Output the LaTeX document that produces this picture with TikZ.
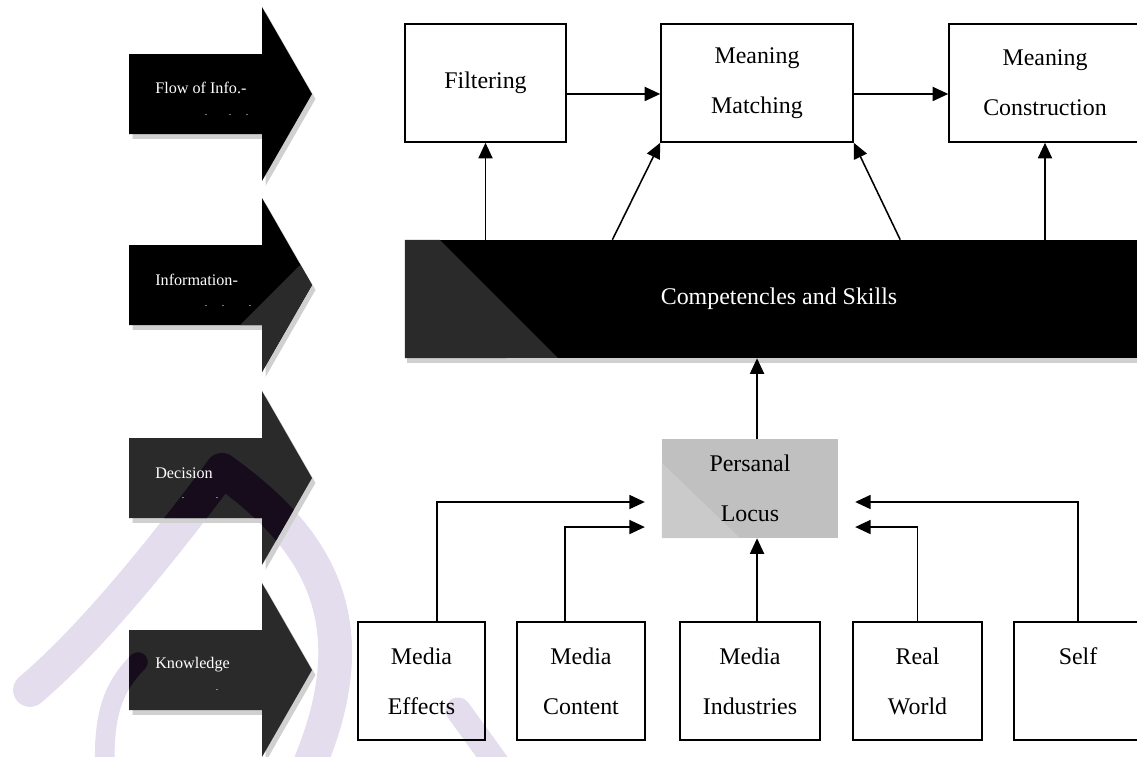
\documentclass[tikz,border=0pt]{standalone}
\usepackage{fontspec}
\setmainfont{Liberation Serif}
\usetikzlibrary{arrows.meta,shadows}

\definecolor{dkgray}{HTML}{2A2A2A}
\definecolor{locusgray}{HTML}{C0C0C0}
\definecolor{locuslight}{HTML}{CACACA}
\definecolor{shade}{HTML}{D0D0D0}
\definecolor{wmark}{HTML}{E4DDEE}
\definecolor{wmarkdark}{HTML}{170C1C}

% block arrow of one level, centred at height #1
\newcommand{\levelarrow}[1]{(129,{#1-40}) -- (262,{#1-40}) -- (262,{#1-87}) -- (312,#1) -- (262,{#1+87}) -- (262,{#1+40}) -- (129,{#1+40}) -- cycle}

% strokes of the watermark
\newcommand{\wmarkstrokes}{%
  \draw[line width=24pt] (30,690) .. controls (95,635) and (170,540) .. (222,470);
  \draw[line width=24pt] (222,470) .. controls (320,540) and (372,625) .. (305,775);
  \draw[line width=14pt] (138,662) .. controls (110,690) and (103,720) .. (105,775);
  \draw[line width=18pt] (458,710) -- (505,775);}

\begin{document}
\begin{tikzpicture}[x=0.025cm,y=-0.025cm,>={Triangle[length=11pt,width=10pt]},
  infobox/.style={draw,line width=1.1pt,align=center,inner sep=0pt,
    font=\fontsize{17}{35.5}\selectfont,minimum height=2.95cm},
  flow/.style={->,line width=1.1pt},
  arrowlabel/.style={anchor=west,text=white,inner sep=0pt,font=\fontsize{11.5}{14}\selectfont},
  dotmark/.style={text=white,inner sep=0pt,font=\fontsize{7}{7}\selectfont},
  arrowshadow/.style={drop shadow={shadow xshift=2.5pt,shadow yshift=-3.5pt,fill=shade,opacity=1}},
  wm/.style={line cap=round,draw=#1}]

  \useasboundingbox (0,0) rectangle (1137,756);

  % watermark
  \begin{scope}[wm=wmark]
    \wmarkstrokes
  \end{scope}

  % level arrows
  \fill[black,arrowshadow] \levelarrow{94};
  \fill[black,arrowshadow] \levelarrow{285};
  \begin{scope}
    \clip \levelarrow{285};
    \fill[dkgray] (240,325) -- (330,235) -- (330,400) -- (165,400) -- cycle;
  \end{scope}
  \fill[dkgray,arrowshadow] \levelarrow{478};
  \fill[dkgray,arrowshadow] \levelarrow{670};
  \foreach \yc in {478,670}{
    \begin{scope}
      \clip \levelarrow{\yc};
      \begin{scope}[wm=wmarkdark]
        \wmarkstrokes
      \end{scope}
    \end{scope}
  }

  \node[arrowlabel] (lflow) at (155,88) {Flow of Info.-};
  \node[arrowlabel] (linfo) at (155,280) {Information-};
  \node[arrowlabel] (ldec) at (155,473) {Decision};
  \node[arrowlabel] (lknow) at (155,665) {Knowledge};
  \foreach \x/\y [count=\i] in {206/115,230/115,247/115,206/306,223/306,250/306,183/498,217/498,217/690}
    \node[dotmark] (dot\i) at (\x,\y) {.};

  % top row
  \node[infobox,minimum width=4.025cm] (fil) at (485.5,83) {Filtering};
  \node[infobox,minimum width=4.8cm] (mm) at (757,83) {Meaning\\Matching};
  \node[infobox,minimum width=4.8cm] (mc) at (1045,83) {Meaning\\Construction};

  % competencies bar
  \node[fill=black,text=white,inner sep=0pt,font=\fontsize{17}{20}\selectfont,
    minimum width=18.7cm,minimum height=2.95cm,
    drop shadow={shadow xshift=1.5pt,shadow yshift=-3.5pt,fill=shade,opacity=1},
    path picture={\fill[dkgray] (path picture bounding box.south west)
      -- (path picture bounding box.north west) -- ++(35,0) -- ++(118,118) -- cycle;}]
    (bar) at (779,299) {Competencles and Skills\hspace{0.3cm}};

  % personal locus
  \node[fill=locusgray,inner sep=0pt,align=center,font=\fontsize{17}{35.5}\selectfont,
    minimum width=4.4cm,minimum height=2.475cm,
    path picture={\fill[locuslight] (path picture bounding box.south west)
      -- ++(0,-75) -- ++(78,75) -- cycle;}]
    (pl) at (750,488.5) {Persanal\\Locus};

  % knowledge row
  \node[infobox,minimum width=3.175cm] (me) at (421.5,681) {Media\\Effects};
  \node[infobox,minimum width=3.2cm] (mcn) at (581,681) {Media\\Content};
  \node[infobox,minimum width=3.5cm] (mi) at (750,681) {Media\\Industries};
  \node[infobox,minimum width=3.225cm] (rw) at (917.5,681) {Real\\World};
  \node[infobox,minimum width=3.2cm] (self) at (1078,681) {Self\\~};

  % connectors
  \draw[flow] ([yshift=-7.8pt]fil.east) -- ([yshift=-7.8pt]mm.west);
  \draw[flow] ([yshift=-7.8pt]mm.east) -- ([yshift=-7.8pt]mc.west);
  \draw[flow] (fil.south |- bar.north) -- (fil.south);
  \draw[flow] ([xshift=-34pt]mm.south west |- bar.north) -- (mm.south west);
  \draw[flow] ([xshift=33pt]mm.south east |- bar.north) -- (mm.south east);
  \draw[flow] (mc.south |- bar.north) -- (mc.south);
  \draw[flow] ([xshift=5pt]pl.north) -- ([xshift=5pt]pl.north |- bar.south);
  \draw[flow] ([xshift=5pt]mi.north) -- ([xshift=5pt]mi.north |- pl.south);
  \draw[flow,shorten >=12pt] ([xshift=11pt]me.north) |- ([yshift=-9.6pt]pl.west);
  \draw[flow,shorten >=12pt] ([xshift=-11.4pt]mcn.north) |- ([yshift=-27.4pt]pl.west);
  \draw[flow,shorten >=12pt] (rw.north) |- ([yshift=-27.4pt]pl.east);
  \draw[flow,shorten >=12pt] (self.north) |- ([yshift=-9.6pt]pl.east);

\end{tikzpicture}
\end{document}
